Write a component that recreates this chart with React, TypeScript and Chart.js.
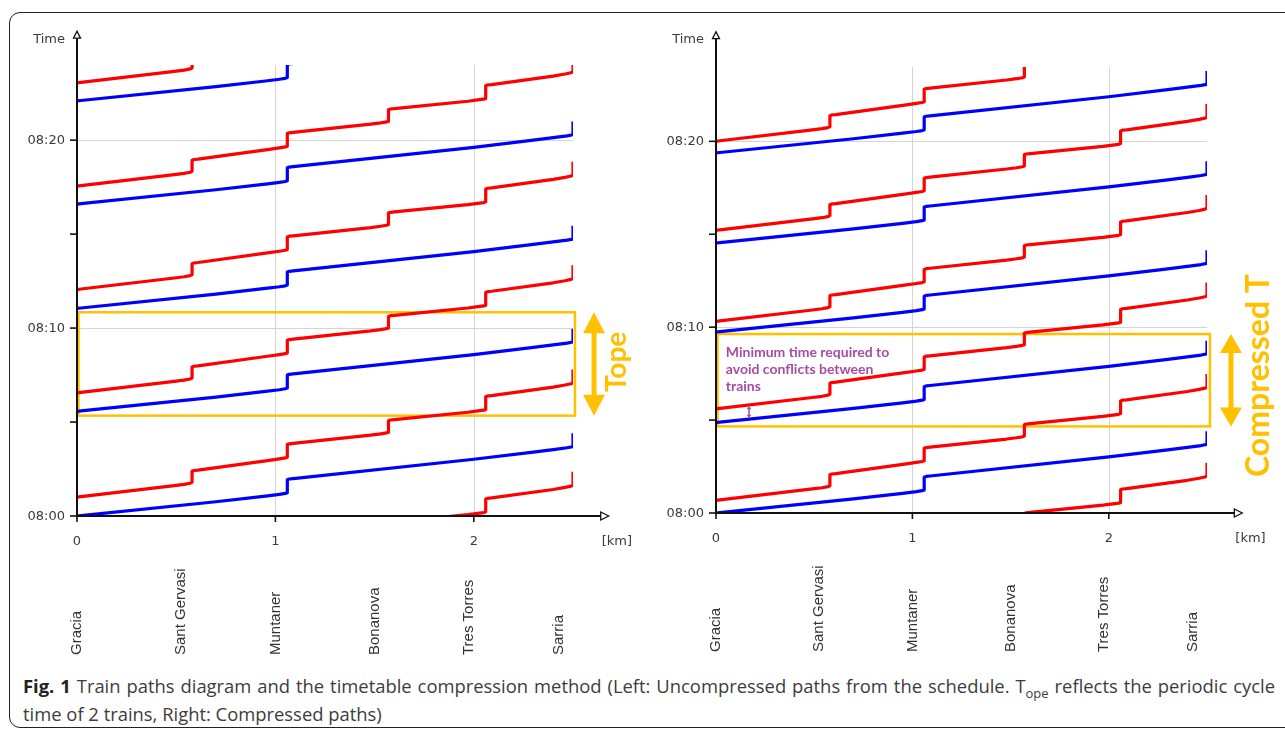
import React, { useEffect, useRef } from "react";
import { Chart, registerables } from "chart.js";

Chart.register(...registerables);

// ---------------- data ----------------
const STATIONS = ["Gracia", "Sant Gervasi", "Muntaner", "Bonanova", "Tres Torres", "Sarria"];
const STATION_LABEL_KM = [0, 0.525, 1.0, 1.5, 1.975, 2.43];
const X_TICK_VALUES = [0, 1, 2];
const X_TICK_LABELS = ["0", "1", "2"];
const X_GRID_VALUES = [1, 2];
const Y_TICK_VALUES = [0, 5, 10, 15, 20];
const Y_LABEL_VALUES = [0, 10, 20];
const Y_LABEL_TEXT = ["08:00", "08:10", "08:20"];
const Y_GRID_VALUES = [10, 20];

// stopping (red) train path: km along line, minutes after departure from Gracia
const RED_PATH_KM = [
  0, 0.02, 0.48, 0.54, 0.57, 0.58,
  0.58, 0.59, 0.61, 0.96, 1.02, 1.05, 1.06,
  1.06, 1.07, 1.09, 1.48, 1.53, 1.56, 1.57,
  1.57, 1.58, 1.6, 1.97, 2.02, 2.05, 2.06,
  2.06, 2.07, 2.09, 2.4, 2.46, 2.49, 2.5,
  2.5,
];
const RED_PATH_MIN = [
  0, 0.03, 0.6, 0.68, 0.74, 0.79,
  1.38, 1.42, 1.44, 1.95, 2.04, 2.09, 2.13,
  2.8, 2.84, 2.86, 3.3, 3.37, 3.42, 3.46,
  4.07, 4.11, 4.13, 4.52, 4.59, 4.63, 4.67,
  5.35, 5.39, 5.41, 5.86, 5.97, 6.04, 6.09,
  6.8,
];
// semi-express (blue) train path
const BLUE_PATH_KM = [0, 0.02, 0.7, 0.95, 1.02, 1.05, 1.06, 1.06, 1.07, 1.09, 2.0, 2.3, 2.42, 2.47, 2.5, 2.5];
const BLUE_PATH_MIN = [0, 0.02, 0.76, 1.06, 1.15, 1.2, 1.24, 1.93, 1.97, 1.99, 3.02, 3.4, 3.56, 3.63, 3.69, 4.4];

// departures from Gracia (minutes after 08:00)
const LEFT_RED_DEPARTURES = [-4.45, 1.0, 6.55, 12.05, 17.55, 23.05];
const LEFT_BLUE_DEPARTURES = [0, 5.57, 11.05, 16.6, 22.09];
const RIGHT_RED_DEPARTURES = [-4.1, 0.68, 5.6, 10.31, 15.21, 20.0];
const RIGHT_BLUE_DEPARTURES = [0, 4.87, 9.74, 14.53, 19.38];

// cycle windows (minutes)
const LEFT_WINDOW_MIN = [5.34, 10.84];
const RIGHT_WINDOW_MIN = [4.66, 9.63];

const NOTE_LINES = ["Minimum time required to", "avoid conflicts between", "trains"];
const HEADWAY_MARK_KM = [0.168];
const HEADWAY_MARK_MIN = [5.12, 5.74];

// ---------------- styles ----------------
const RED = "#ff0000";
const BLUE = "#0000ff";
const ORANGE = "#FFC000";
const PURPLE = "#A64CA6";

type Cfg = {
  reds: number[];
  blues: number[];
  windowMin: number[];
  boxKm: number;
  xAxisEnd: number;
  yAxisEnd: number;
  stationBottom: number;
  arrowKm: number;
  arrowHead: number;
  label: string;
  labelFont: string;
  labelKm: number;
  labelMin: number;
  note: boolean;
  padding: { left: number; right: number; top: number; bottom: number };
};

function trainDataset(dep: number, km: number[], min: number[], color: string) {
  return {
    data: km.map((k, i) => ({ x: k, y: min[i] + dep })),
    borderColor: color,
    backgroundColor: color,
    borderWidth: 3.2,
    pointRadius: 0,
    tension: 0,
    fill: false,
    clip: 0,
    borderJoinStyle: "round" as const,
  };
}

function line(ctx: CanvasRenderingContext2D, x1: number, y1: number, x2: number, y2: number) {
  ctx.beginPath();
  ctx.moveTo(x1, y1);
  ctx.lineTo(x2, y2);
  ctx.stroke();
}

function makePlugin(cfg: Cfg) {
  return {
    id: "trainDeco",
    beforeDatasetsDraw(chart: any) {
      const { ctx } = chart;
      const xs = chart.scales.x;
      const ys = chart.scales.y;
      ctx.save();
      ctx.strokeStyle = "#d4d4d4";
      ctx.lineWidth = 1;
      X_GRID_VALUES.forEach((v) => {
        const px = Math.round(xs.getPixelForValue(v)) + 0.5;
        line(ctx, px, ys.getPixelForValue(0), px, ys.getPixelForValue(ys.max));
      });
      Y_GRID_VALUES.forEach((v) => {
        const py = Math.round(ys.getPixelForValue(v)) + 0.5;
        line(ctx, xs.getPixelForValue(0), py, xs.getPixelForValue(xs.max), py);
      });
      // cycle window
      ctx.strokeStyle = ORANGE;
      ctx.lineWidth = 2.5;
      const bx0 = xs.getPixelForValue(0) + 1.5;
      const bx1 = xs.getPixelForValue(cfg.boxKm);
      const by0 = ys.getPixelForValue(cfg.windowMin[1]);
      const by1 = ys.getPixelForValue(cfg.windowMin[0]);
      ctx.strokeRect(bx0, by0, bx1 - bx0, by1 - by0);
      ctx.restore();
    },
    afterDraw(chart: any) {
      const { ctx } = chart;
      const xs = chart.scales.x;
      const ys = chart.scales.y;
      const x0 = xs.getPixelForValue(0);
      const y0 = ys.getPixelForValue(0);
      const xEnd = xs.getPixelForValue(cfg.xAxisEnd);
      const yEnd = ys.getPixelForValue(cfg.yAxisEnd);
      ctx.save();
      // axes
      ctx.strokeStyle = "#111";
      ctx.lineWidth = 2;
      line(ctx, x0, y0, xEnd - 8, y0);
      line(ctx, x0, y0 + 1, x0, yEnd + 7);
      // ticks
      ctx.lineWidth = 1.6;
      Y_TICK_VALUES.forEach((v) => {
        const py = ys.getPixelForValue(v);
        line(ctx, x0 - 7, py, x0, py);
      });
      X_TICK_VALUES.forEach((v) => {
        const px = xs.getPixelForValue(v);
        line(ctx, px, y0, px, y0 + 6);
      });
      // open arrowheads
      ctx.lineWidth = 1.3;
      ctx.fillStyle = "#fff";
      ctx.beginPath();
      ctx.moveTo(xEnd, y0);
      ctx.lineTo(xEnd - 8, y0 - 4);
      ctx.lineTo(xEnd - 8, y0 + 4);
      ctx.closePath();
      ctx.fill();
      ctx.stroke();
      ctx.beginPath();
      ctx.moveTo(x0, yEnd);
      ctx.lineTo(x0 - 3.5, yEnd + 7);
      ctx.lineTo(x0 + 3.5, yEnd + 7);
      ctx.closePath();
      ctx.fill();
      ctx.stroke();

      // tick labels
      ctx.font = '13px "DejaVu Sans"';
      ctx.fillStyle = "#3a3a3a";
      ctx.textAlign = "right";
      ctx.textBaseline = "middle";
      Y_LABEL_VALUES.forEach((v, i) => {
        ctx.fillText(Y_LABEL_TEXT[i], x0 - 12, ys.getPixelForValue(v) + 0.5);
      });
      ctx.fillText("Time", x0 - 12, yEnd + 8);
      ctx.textAlign = "center";
      X_TICK_VALUES.forEach((v, i) => {
        ctx.fillText(X_TICK_LABELS[i], xs.getPixelForValue(v), y0 + 26);
      });
      ctx.textAlign = "left";
      ctx.fillText("[km]", xEnd - 7, y0 + 26);

      // station names
      ctx.font = '15px "Liberation Sans"';
      ctx.fillStyle = "#333";
      STATIONS.forEach((s, i) => {
        ctx.save();
        ctx.translate(xs.getPixelForValue(STATION_LABEL_KM[i]), cfg.stationBottom);
        ctx.rotate(-Math.PI / 2);
        ctx.textAlign = "left";
        ctx.textBaseline = "middle";
        ctx.fillText(s, 0, 0);
        ctx.restore();
      });

      // cycle arrow
      const ax = xs.getPixelForValue(cfg.arrowKm);
      const aTop = ys.getPixelForValue(cfg.windowMin[1]);
      const aBot = ys.getPixelForValue(cfg.windowMin[0]);
      const hh = cfg.arrowHead;
      const hw = 11;
      ctx.fillStyle = ORANGE;
      ctx.fillRect(ax - 2.5, aTop + hh - 1, 5, aBot - aTop - 2 * hh + 2);
      ctx.beginPath();
      ctx.moveTo(ax, aTop);
      ctx.lineTo(ax + hw, aTop + hh);
      ctx.lineTo(ax - hw, aTop + hh);
      ctx.closePath();
      ctx.fill();
      ctx.beginPath();
      ctx.moveTo(ax, aBot);
      ctx.lineTo(ax + hw, aBot - hh);
      ctx.lineTo(ax - hw, aBot - hh);
      ctx.closePath();
      ctx.fill();

      // rotated label
      ctx.save();
      ctx.translate(xs.getPixelForValue(cfg.labelKm), ys.getPixelForValue(cfg.labelMin));
      ctx.rotate(-Math.PI / 2);
      ctx.font = cfg.labelFont;
      ctx.textAlign = "center";
      ctx.textBaseline = "middle";
      ctx.fillStyle = ORANGE;
      ctx.fillText(cfg.label, 0, 0);
      ctx.restore();

      if (cfg.note) {
        ctx.font = "bold 14px Lato";
        ctx.fillStyle = PURPLE;
        ctx.textAlign = "left";
        ctx.textBaseline = "middle";
        const nx = xs.getPixelForValue(0.05);
        const ny = ys.getPixelForValue(8.63);
        NOTE_LINES.forEach((t, i) => ctx.fillText(t, nx, ny + i * 16.7));
        // small headway double arrow
        const hx = xs.getPixelForValue(HEADWAY_MARK_KM[0]);
        const hy0 = ys.getPixelForValue(HEADWAY_MARK_MIN[1]);
        const hy1 = ys.getPixelForValue(HEADWAY_MARK_MIN[0]);
        ctx.strokeStyle = PURPLE;
        ctx.lineWidth = 1.5;
        line(ctx, hx, hy0 + 1, hx, hy1 - 1);
        ctx.beginPath();
        ctx.moveTo(hx, hy0);
        ctx.lineTo(hx - 2.5, hy0 + 3);
        ctx.lineTo(hx + 2.5, hy0 + 3);
        ctx.closePath();
        ctx.fill();
        ctx.beginPath();
        ctx.moveTo(hx, hy1);
        ctx.lineTo(hx - 2.5, hy1 - 3);
        ctx.lineTo(hx + 2.5, hy1 - 3);
        ctx.closePath();
        ctx.fill();
      }
      ctx.restore();
    },
  };
}

function TrainChart({ cfg, left, width }: { cfg: Cfg; left: number; width: number }) {
  const ref = useRef<HTMLCanvasElement>(null);
  useEffect(() => {
    const datasets = [
      ...cfg.reds.map((d) => trainDataset(d, RED_PATH_KM, RED_PATH_MIN, RED)),
      ...cfg.blues.map((d) => trainDataset(d, BLUE_PATH_KM, BLUE_PATH_MIN, BLUE)),
    ];
    const chart = new Chart(ref.current as HTMLCanvasElement, {
      type: "line",
      data: { datasets: datasets as any },
      options: {
        animation: false,
        responsive: false,
        events: [],
        layout: { padding: cfg.padding },
        plugins: { legend: { display: false }, tooltip: { enabled: false } },
        scales: {
          x: { type: "linear", min: 0, max: 2.5, display: false },
          y: { type: "linear", min: 0, max: 24, display: false },
        },
      },
      plugins: [makePlugin(cfg)],
    });
    return () => chart.destroy();
  }, []);
  return (
    <canvas
      ref={ref}
      width={width}
      height={670}
      style={{ position: "absolute", left, top: 0, width, height: 670 }}
    />
  );
}

const LEFT_CFG: Cfg = {
  reds: LEFT_RED_DEPARTURES,
  blues: LEFT_BLUE_DEPARTURES,
  windowMin: LEFT_WINDOW_MIN,
  boxKm: 2.51,
  xAxisEnd: 2.68,
  yAxisEnd: 25.8,
  stationBottom: 655,
  arrowKm: 2.606,
  arrowHead: 21,
  label: "Tope",
  labelFont: "bold 28px Lato",
  labelKm: 2.72,
  labelMin: 8.2,
  note: false,
  padding: { left: 77, right: 67, top: 65, bottom: 154 },
};

const RIGHT_CFG: Cfg = {
  reds: RIGHT_RED_DEPARTURES,
  blues: RIGHT_BLUE_DEPARTURES,
  windowMin: RIGHT_WINDOW_MIN,
  boxKm: 2.515,
  xAxisEnd: 2.68,
  yAxisEnd: 25.9,
  stationBottom: 652,
  arrowKm: 2.622,
  arrowHead: 19,
  label: "Compressed T",
  labelFont: "bold 32px Lato",
  labelKm: 2.765,
  labelMin: 7.4,
  note: true,
  padding: { left: 76, right: 78, top: 67, bottom: 157 },
};

export default function App() {
  return (
    <div
      style={{
        position: "absolute",
        left: 0,
        top: 0,
        width: 1285,
        height: 729,
        overflow: "hidden",
        background: "#fff",
        fontFamily: '"Open Sans", sans-serif',
      }}
    >
      <div
        style={{
          position: "absolute",
          left: 9,
          top: 12,
          width: 1300,
          height: 716,
          boxSizing: "border-box",
          border: "1.5px solid #222",
          borderRadius: 11,
        }}
      />
      <TrainChart cfg={LEFT_CFG} left={0} width={640} />
      <TrainChart cfg={RIGHT_CFG} left={640} width={645} />
      <div
        style={{
          position: "absolute",
          left: 23,
          top: 672,
          width: 1252,
          fontSize: 18.4,
          lineHeight: "28px",
          color: "#3c3c3c",
        }}
      >
        <div style={{ textAlign: "justify", textAlignLast: "justify", whiteSpace: "nowrap" as const }}>
          <b style={{ color: "#222" }}>Fig. 1</b> Train paths diagram and the timetable compression method (Left:
          Uncompressed paths from the schedule. T<sub style={{ fontSize: 13, lineHeight: 0 }}>ope</sub> reflects the
          periodic cycle
        </div>
        <div>time of 2 trains, Right: Compressed paths)</div>
      </div>
    </div>
  );
}
